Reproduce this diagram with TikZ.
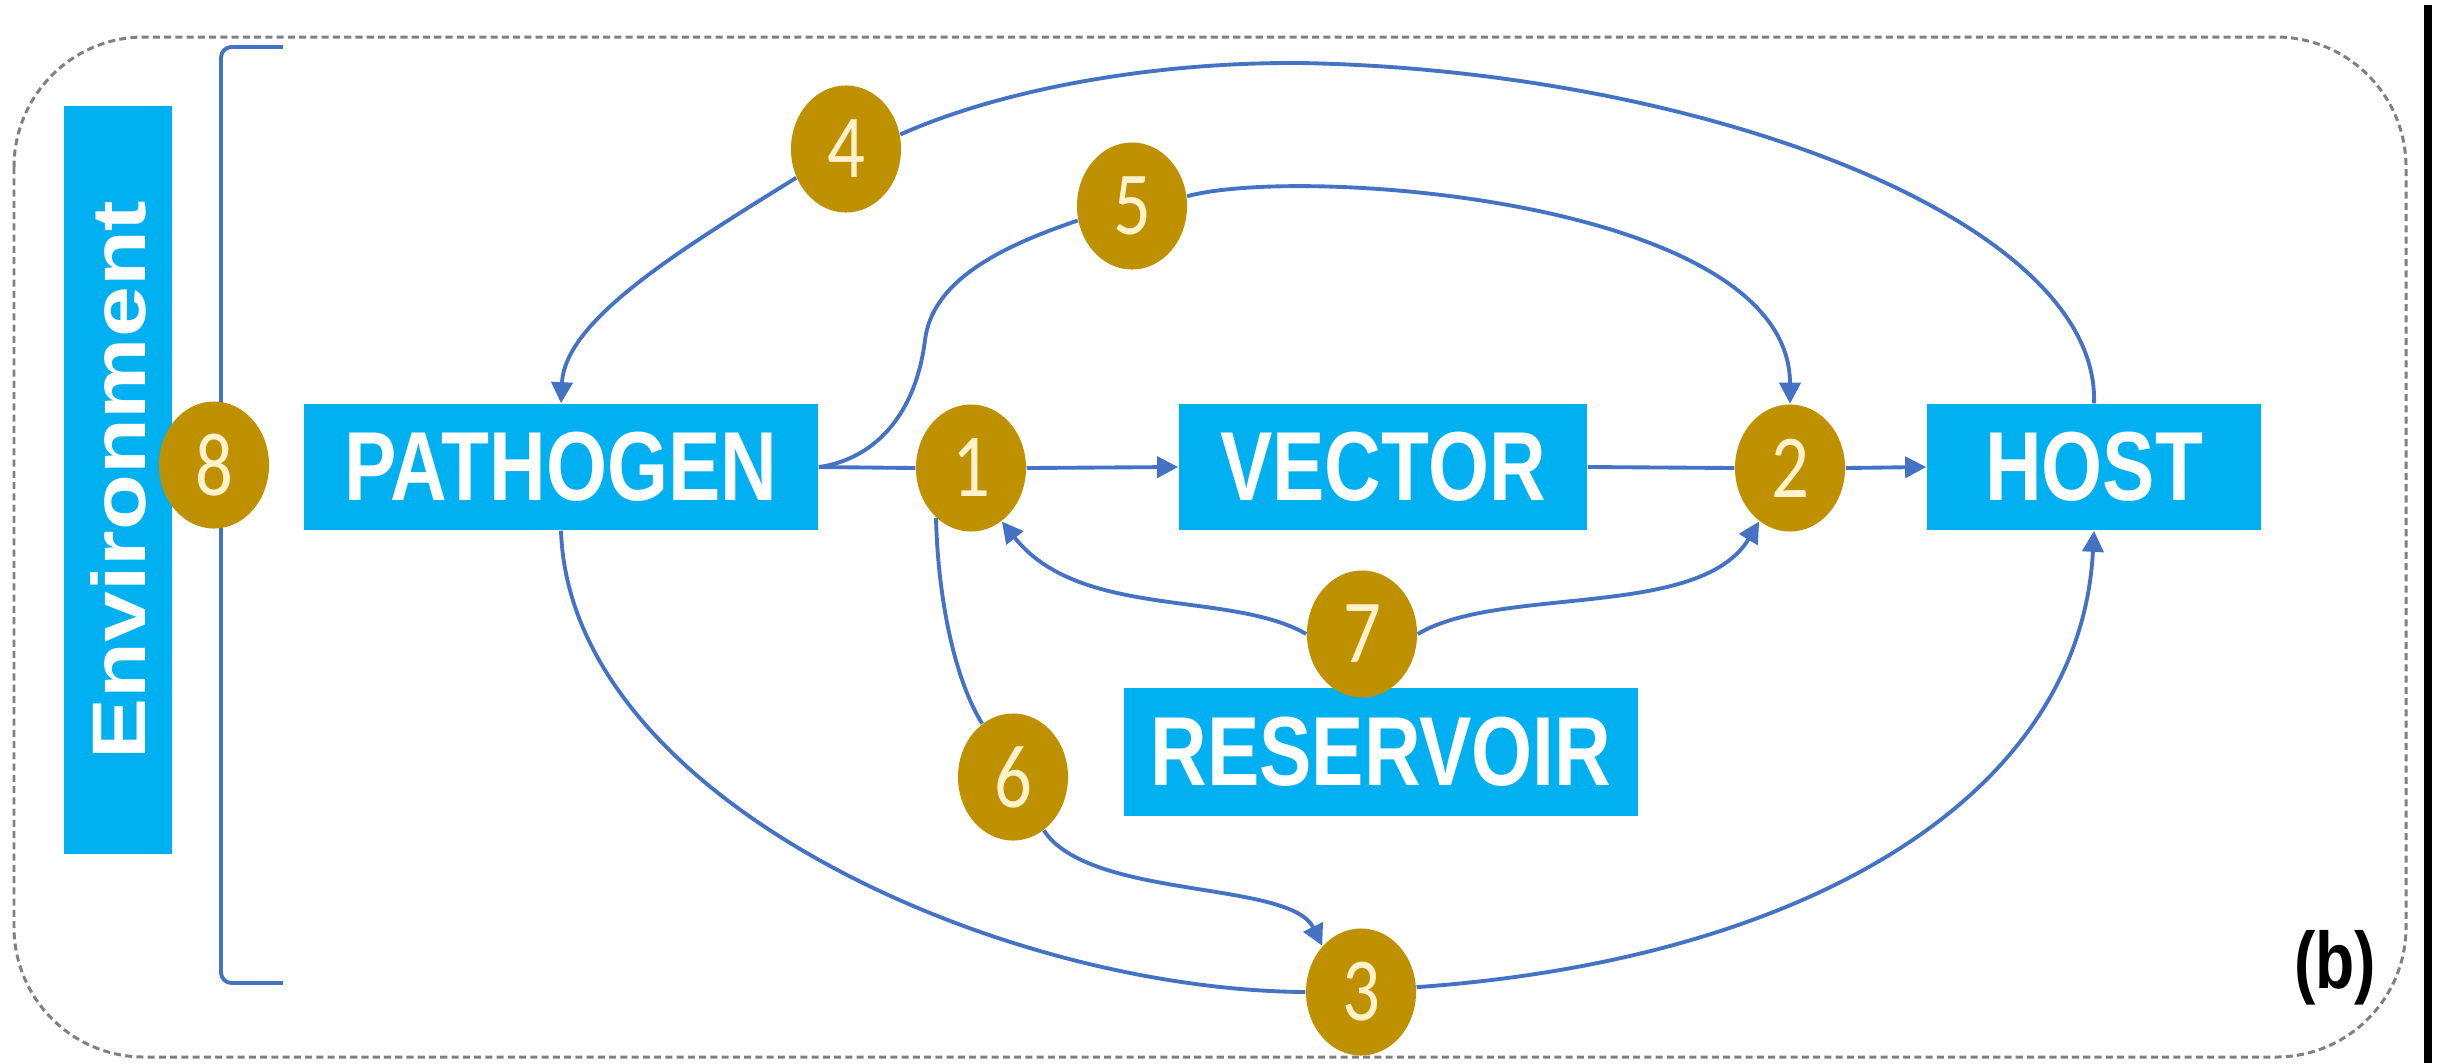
\documentclass[tikz,border=0pt]{standalone}
\usepackage{fontspec}
\setmainfont{Liberation Sans}
\newfontfamily\digitfont{Carlito}
\usetikzlibrary{arrows.meta,shapes.geometric,backgrounds}
\definecolor{boxblue}{HTML}{00B0F0}
\definecolor{gold}{HTML}{BF9000}
\definecolor{cream}{HTML}{FFF2CC}
\definecolor{linkblue}{HTML}{4472C4}
\definecolor{bordergrey}{HTML}{808080}
\newcommand{\boxlabel}[1]{\scalebox{0.8}[1]{#1}}
\newcommand{\numlabel}[1]{\scalebox{0.83}[1]{#1}}
\begin{document}
\begin{tikzpicture}[x=0.01cm,y=-0.01cm,
  entity/.style={rectangle, fill=boxblue, text=white, font=\bfseries\fontsize{27.9}{30}\selectfont, inner sep=0pt, minimum height=1.26cm},
  stage/.style={ellipse, fill=gold, text=cream, font=\digitfont\fontsize{25.6}{28}\selectfont, inner sep=0pt, minimum width=1.1cm, minimum height=1.27cm},
  link/.style={draw=linkblue, line width=1.1pt},
  arr/.style={link, -{Triangle[length=6pt,width=6pt]}},
  frame/.style={draw=bordergrey, line width=0.85pt, dash pattern=on 2pt off 1.2pt, rounded corners=1.3cm},
]
\useasboundingbox (0,0) rectangle (2440,1063);
% outer dashed frame and right edge rule
\draw[frame] (14,37) rectangle (2406,1057);
\draw[black, line width=2.5pt] (2428,5) -- (2428,1063);

% boxes
\node[rectangle, fill=boxblue, text=white, inner sep=0pt, rotate=90,
      minimum width=7.47cm, minimum height=1.08cm,
      font=\bfseries\fontsize{26}{28}\selectfont] (env) at (118,480) {\scalebox{1}[0.83]{Environment}};
\node[entity, minimum width=5.14cm] (path) at (561,467) {\boxlabel{PATHOGEN}};
\node[entity, minimum width=4.08cm] (vec) at (1383,467) {\boxlabel{VECTOR}};
\node[entity, minimum width=3.34cm] (host) at (2094,467) {\boxlabel{HOST}};
\node[entity, minimum width=5.13cm, minimum height=1.28cm] (res) at (1381,752) {\boxlabel{RESERVOIR}};

% numbered stages
\node[stage] (c8) at (214,465) {\numlabel{8}};
\node[stage] (c4) at (846,149) {\numlabel{4}};
\node[stage] (c5) at (1132,206) {\numlabel{5}};
\node[stage] (c1) at (971,468) {\numlabel{1}};
\node[stage] (c2) at (1790,468) {\numlabel{2}};
\node[stage] (c7) at (1362,634) {\numlabel{7}};
\node[stage] (c6) at (1013,777) {\numlabel{6}};
\node[stage] (c3) at (1361,992) {\numlabel{3}};

\node[font=\bfseries\fontsize{22.8}{25}\selectfont, inner sep=0pt] (lab) at (2335,968) {\scalebox{0.8}[1]{(b)}};

\coordinate (brtop) at (283,47);
\coordinate (brbot) at (283,983);

\begin{scope}[on background layer]
  % environment bracket
  \draw[link, rounded corners=3pt] (brtop) -- (221,47) -- (221,983) -- (brbot);
  % main chain
  \draw[link] (path.east) -- (c1.west);
  \draw[arr] (c1.east) -- (vec.west);
  \draw[link] (vec.east) -- (c2.west);
  \draw[arr] (c2.east) -- (host.west);
  % route 5
  \draw[link] (path.east) .. controls (870,460) and (915,420) .. (925,340)
                          .. controls (932,285) and (990,250) .. (c5.195);
  \draw[arr] (c5.10) .. controls (1300,165) and (1790,200) .. (c2.north);
  % route 4
  \draw[arr] (c4.210) .. controls (680,250) and (565,320) .. (path.north);
  \draw[link] (c4.15) .. controls (1000,90) and (1150,62) .. (1300,63)
                      .. controls (1700,70) and (2100,220) .. (host.north);
  % route 7
  \draw[arr] (c7.180) .. controls (1230,590) and (1080,620) .. (c1.-60);
  \draw[arr] (c7.0) .. controls (1500,585) and (1700,620) .. (c2.240);
  % route 6
  \draw[link] (c1.235) .. controls (938,600) and (955,680) .. (c6.120);
  \draw[arr] (c6.-60) .. controls (1090,900) and (1290,880) .. (c3.130);
  % route 3
  \draw[link] (path.south) .. controls (570,800) and (1000,990) .. (c3.west);
  \draw[arr] (c3.5) .. controls (1800,960) and (2080,800) .. (host.south);
\end{scope}
\end{tikzpicture}
\end{document}
